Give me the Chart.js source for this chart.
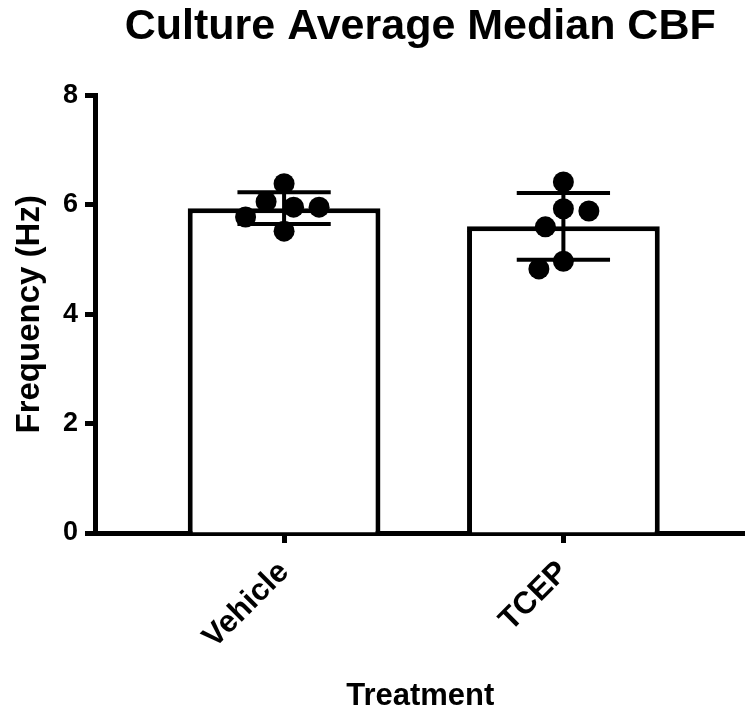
<!DOCTYPE html>
<html>
<head>
<meta charset="utf-8">
<script src="https://cdn.jsdelivr.net/npm/chart.js@4.4.1/dist/chart.umd.min.js"></script>
<style>
  html, body { margin: 0; padding: 0; background: #ffffff; overflow: hidden; }
  /* the plot runs off the right edge of the window, so the canvas is a little wider */
  #wrap { width: 756px; height: 717px; position: absolute; left: 0; top: 0; }
  #cbf { display: block; }
</style>
</head>
<body>
<div id="wrap"><canvas id="cbf"></canvas></div>
<script>
// Treatment groups and their summary statistics (mean ± SD, Hz)
const categories = ['Vehicle', 'TCEP'];
const meanValues = [5.94, 5.61];
const sdValues = [0.29, 0.61];

// Individual culture values (Hz)
const vehicleValues = [6.39, 5.96, 5.52, 5.78, 6.06, 5.96];
const tcepValues = [6.42, 5.89, 5.93, 5.60, 4.97, 4.83];

// Y-axis tick values
const yTicks = [0, 2, 4, 6, 8];

const chartTitle = 'Culture Average Median CBF';
const xTitle = 'Treatment';
const yTitle = 'Frequency (Hz)';

const FAMILY = "'Liberation Sans', Arial, Helvetica, sans-serif";
const INK = '#000000';

// Spread the dots of each group sideways so they do not pile on top of each other
const swarmPlugin = {
  id: 'swarm',
  afterDatasetsUpdate(chart) {
    chart.data.datasets.forEach((ds, i) => {
      if (ds.type !== 'scatter') return;
      const pts = chart.getDatasetMeta(i).data;
      const minDist = 2 * ds.pointRadius * 1.2;
      const order = pts.map((p, k) => k).sort((a, b) => pts[a].y - pts[b].y);
      const placed = [];
      order.forEach((k, n) => {
        const p = pts[k];
        const cx = p.x;
        const sign = n % 2 === 0 ? 1 : -1;
        let dx = 0;
        for (let d = 0; d < 200; d += 0.5) {
          const cands = d === 0 ? [0] : [sign * d, -sign * d];
          const ok = cands.find(c => placed.every(q => Math.hypot(cx + c - q.x, p.y - q.y) >= minDist));
          if (ok !== undefined) { dx = ok; break; }
        }
        p.x = cx + dx;
        placed.push({ x: p.x, y: p.y });
      });
    });
  }
};

// Mean ± SD error bars drawn over the bars
const errorBarPlugin = {
  id: 'errorBars',
  afterDatasetDraw(chart, args) {
    if (args.index !== 0) return;
    const { ctx } = chart;
    const xs = chart.scales.x;
    const ys = chart.scales.y;
    const capHalf = (xs.getPixelForValue(1) - xs.getPixelForValue(0)) * 0.167;
    ctx.save();
    ctx.strokeStyle = INK;
    ctx.lineWidth = 4;
    meanValues.forEach((m, i) => {
      const x = xs.getPixelForValue(i);
      const yHi = ys.getPixelForValue(m + sdValues[i]);
      const yLo = ys.getPixelForValue(m - sdValues[i]);
      ctx.beginPath();
      ctx.moveTo(x, yHi); ctx.lineTo(x, yLo);
      ctx.moveTo(x - capHalf, yHi); ctx.lineTo(x + capHalf, yHi);
      ctx.moveTo(x - capHalf, yLo); ctx.lineTo(x + capHalf, yLo);
      ctx.stroke();
    });
    ctx.restore();
  }
};

const dotStyle = {
  type: 'scatter',
  pointRadius: 10.5,
  pointHoverRadius: 10.5,
  pointBackgroundColor: INK,
  pointBorderColor: INK,
  pointBorderWidth: 0,
  order: 1
};

const axisGrid = {
  drawOnChartArea: false,
  drawTicks: true,
  offset: false,
  tickLength: 10,
  tickWidth: 5,
  tickColor: INK
};

new Chart(document.getElementById('cbf'), {
  type: 'bar',
  data: {
    datasets: [
      {
        type: 'bar',
        data: meanValues.map((v, i) => ({ x: i, y: v })),
        backgroundColor: '#ffffff',
        borderColor: INK,
        borderWidth: 5,
        barPercentage: 0.69,
        categoryPercentage: 1,
        order: 2
      },
      Object.assign({ data: vehicleValues.map(v => ({ x: 0, y: v })) }, dotStyle),
      Object.assign({ data: tcepValues.map(v => ({ x: 1, y: v })) }, dotStyle)
    ]
  },
  options: {
    responsive: true,
    maintainAspectRatio: false,
    animation: false,
    events: [],
    layout: { padding: 0 },
    plugins: {
      legend: { display: false },
      tooltip: { enabled: false },
      title: {
        display: true,
        text: chartTitle,
        fullSize: false,
        color: INK,
        font: { family: FAMILY, size: 43, weight: 'bold', lineHeight: 1.2 },
        padding: { top: 1, bottom: 43 }
      }
    },
    scales: {
      x: {
        type: 'linear',
        offset: false,
        bounds: 'data',
        min: -0.677,
        max: 1.652,
        afterBuildTicks(scale) { scale.ticks = categories.map((c, i) => ({ value: i })); },
        afterFit(scale) {
          scale.height = 184;
          scale.paddingLeft = 0;
          scale.paddingRight = 0;
        },
        ticks: {
          callback: v => categories[v],
          autoSkip: false,
          minRotation: 45,
          maxRotation: 45,
          padding: 11,
          color: INK,
          font: { family: FAMILY, size: 31, weight: 'bold' }
        },
        grid: axisGrid,
        border: { display: true, color: INK, width: 5 },
        title: {
          display: true,
          text: xTitle,
          color: INK,
          font: { family: FAMILY, size: 31, weight: 'bold', lineHeight: 1.2 },
          padding: { top: 0, bottom: 2 }
        }
      },
      y: {
        min: 0,
        max: 8,
        afterBuildTicks(scale) { scale.ticks = yTicks.map(v => ({ value: v })); },
        afterFit(scale) { scale.width = 95; },
        ticks: {
          padding: 7,
          color: INK,
          font: { family: FAMILY, size: 27, weight: 'bold' }
        },
        grid: axisGrid,
        border: { display: true, color: INK, width: 5 },
        title: {
          display: true,
          text: yTitle,
          color: INK,
          font: { family: FAMILY, size: 33, weight: 'bold', lineHeight: 1.2 },
          padding: { top: 10, bottom: 0 }
        }
      }
    }
  },
  plugins: [swarmPlugin, errorBarPlugin]
});
</script>
</body>
</html>
